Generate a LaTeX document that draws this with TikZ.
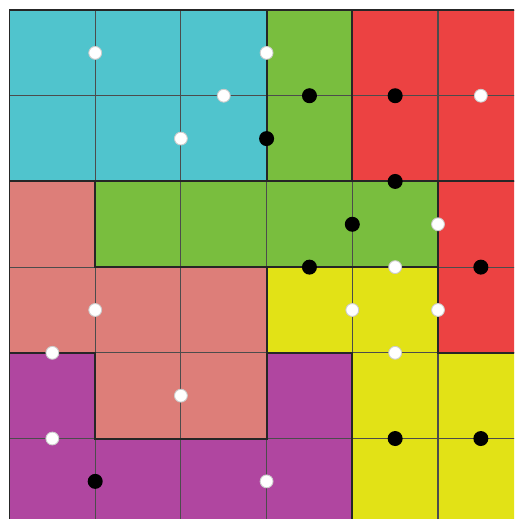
\documentclass[tikz,border=0pt]{standalone}
\usepackage{tikz}

\definecolor{tealblock}{RGB}{80,196,205}
\definecolor{greenblock}{RGB}{121,190,62}
\definecolor{redblock}{RGB}{236,66,66}
\definecolor{pinkblock}{RGB}{221,126,121}
\definecolor{yellowblock}{RGB}{226,226,22}
\definecolor{purpleblock}{RGB}{176,70,160}

\begin{document}
\begin{tikzpicture}[
gridline/.style={draw=black!70,line width=0.35pt},
region/.style={draw=black!85,line width=0.65pt,line join=miter},
wdot/.style={circle,fill=white,draw=black!20,line width=0.3pt,inner sep=0pt,minimum size=1.5mm},
bdot/.style={circle,fill=black,inner sep=0pt,minimum size=1.75mm}
]
\useasboundingbox (-0.111,0.061) rectangle (5.887,6.117);
\clip (-0.111,0.061) rectangle (5.887,6.117);

% coloured regions
\fill[tealblock] (0,4) rectangle (3,6);
\fill[greenblock] (3,6) -- (4,6) -- (4,4) -- (5,4) -- (5,3) -- (1,3) -- (1,4) -- (3,4) -- cycle;
\fill[redblock] (4,6) -- (6,6) -- (6,2) -- (5,2) -- (5,4) -- (4,4) -- cycle;
\fill[pinkblock] (0,4) -- (1,4) -- (1,3) -- (3,3) -- (3,1) -- (1,1) -- (1,2) -- (0,2) -- cycle;
\fill[yellowblock] (3,3) -- (5,3) -- (5,2) -- (6,2) -- (6,0) -- (4,0) -- (4,2) -- (3,2) -- cycle;
\fill[purpleblock] (0,2) -- (1,2) -- (1,1) -- (3,1) -- (3,2) -- (4,2) -- (4,0) -- (0,0) -- cycle;

% cell grid
\draw[gridline] (0,0) grid (6,6);

% region borders
\draw[region] (0,0) rectangle (6,6);
\draw[region] (3,6) -- (3,4) -- (1,4) -- (1,3) -- (5,3) -- (5,4) -- (4,4) -- (4,6);
\draw[region] (4,4) -- (3,4);
\draw[region] (5,4) -- (6,4);
\draw[region] (0,4) -- (1,4);
\draw[region] (5,3) -- (5,2) -- (6,2);
\draw[region] (0,2) -- (1,2) -- (1,1) -- (3,1) -- (3,3);
\draw[region] (3,2) -- (4,2) -- (4,0);

% white dots
\node[wdot] (wa) at (1,5.5) {};
\node[wdot] (wb) at (3,5.5) {};
\node[wdot] (wc) at (2.5,5) {};
\node[wdot] (wd) at (2,4.5) {};
\node[wdot] (we) at (5.5,5) {};
\node[wdot] (wf) at (5,3.5) {};
\node[wdot] (wg) at (4.5,3) {};
\node[wdot] (wh) at (1,2.5) {};
\node[wdot] (wi) at (4,2.5) {};
\node[wdot] (wj) at (5,2.5) {};
\node[wdot] (wk) at (0.5,2) {};
\node[wdot] (wl) at (4.5,2) {};
\node[wdot] (wm) at (2,1.5) {};
\node[wdot] (wn) at (0.5,1) {};
\node[wdot] (wo) at (3,0.5) {};

% black dots
\node[bdot] (ba) at (3.5,5) {};
\node[bdot] (bb) at (4.5,5) {};
\node[bdot] (bc) at (3,4.5) {};
\node[bdot] (bd) at (4.5,4) {};
\node[bdot] (be) at (4,3.5) {};
\node[bdot] (bf) at (3.5,3) {};
\node[bdot] (bg) at (5.5,3) {};
\node[bdot] (bh) at (4.5,1) {};
\node[bdot] (bi) at (5.5,1) {};
\node[bdot] (bj) at (1,0.5) {};
\end{tikzpicture}
\end{document}
